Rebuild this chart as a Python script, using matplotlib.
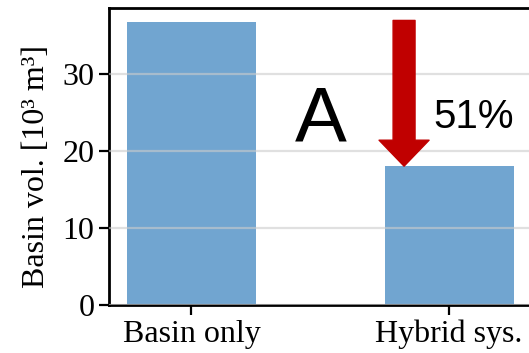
import matplotlib
matplotlib.use("Agg")
import matplotlib.pyplot as plt

categories = ["Basin only", "Hybrid sys."]
volumes = [36.75, 18.05]
reduction_label = "51%"

plt.rcParams["font.family"] = ["Liberation Serif", "DejaVu Serif"]

fig = plt.figure(figsize=(5.29, 3.53), dpi=100)
ax = fig.add_axes([0.206, 0.136, 0.799, 0.841])

x = list(range(len(categories)))
ax.bar(x, volumes, width=0.5, color="#71a5d0", zorder=2)

ax.set_xlim(-0.32, 1.32)
ax.set_ylim(0, 38.6)
ax.set_yticks([0, 10, 20, 30])
ax.set_xticks(x)
ax.set_xticklabels(categories)
ax.tick_params(labelsize=23, length=7, width=1.6)
ax.set_ylabel("Basin vol. [10³ m³]", fontsize=23)
ax.yaxis.set_label_coords(-0.137, 0.468)

ax.yaxis.grid(True, color="#cccccc", linewidth=1.6, alpha=0.6, zorder=3)
ax.set_axisbelow(False)
for side in ["left", "bottom", "top"]:
    ax.spines[side].set_linewidth(2.0)
ax.spines["right"].set_visible(False)

# red arrow showing the reduction
ax.annotate("", xy=(0.825, volumes[1]), xytext=(0.825, 37.0),
            arrowprops=dict(arrowstyle="simple,head_length=18.7,head_width=36,tail_width=15.8",
                            color="#c00000", mutation_scale=1, shrinkA=0, shrinkB=0),
            zorder=4)

ax.text(0.503, 21.3, "A", fontsize=56, family="Liberation Sans",
        ha="center", va="baseline", zorder=5)
ax.text(0.938, 23.0, reduction_label, fontsize=29, family="Liberation Sans",
        ha="left", va="baseline", zorder=5)

fig.savefig("out.png", dpi=100)
